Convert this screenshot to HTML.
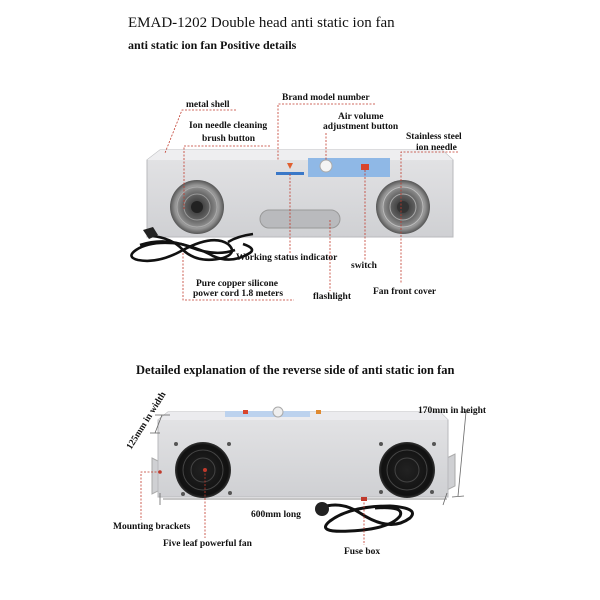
<!DOCTYPE html>
<html><head><meta charset="utf-8"><style>
html,body{margin:0;padding:0;background:#fff;}
svg{display:block;}
text{font-family:"Liberation Serif",serif;fill:#111;}
.l{font-size:9.5px;font-weight:bold;}
.d{stroke:#c0392b;stroke-width:0.8;stroke-dasharray:2,1.5;fill:none;}
</style></head><body>
<svg width="600" height="600" viewBox="0 0 600 600" xmlns="http://www.w3.org/2000/svg">
<defs>
<linearGradient id="body" x1="0" y1="0" x2="0" y2="1"><stop offset="0" stop-color="#e4e4e6"/><stop offset="1" stop-color="#cfd0d3"/></linearGradient>
<radialGradient id="fan" cx="0.5" cy="0.5" r="0.5"><stop offset="0" stop-color="#2a2a2a"/><stop offset="0.5" stop-color="#666"/><stop offset="0.8" stop-color="#999"/><stop offset="1" stop-color="#555"/></radialGradient>
<radialGradient id="fanb" cx="0.5" cy="0.5" r="0.5"><stop offset="0" stop-color="#222"/><stop offset="0.9" stop-color="#111"/><stop offset="1" stop-color="#333"/></radialGradient>
</defs>
<text x="128" y="27" style="font-size:15px;">EMAD-1202 Double head anti static ion fan</text>
<text x="128" y="49" style="font-size:12px;font-weight:bold;">anti static ion fan Positive details</text>

<!-- top device -->
<polygon points="160,150 442,150 453,160 453,237 147,237 147,160" fill="url(#body)" stroke="#b8b9bc"/>
<polygon points="160,150 442,150 453,160 147,160" fill="#eeeef0"/>
<circle cx="197" cy="207" r="27" fill="url(#fan)"/>
<circle cx="197" cy="207" r="20" fill="none" stroke="#aaa" stroke-width="1"/>
<circle cx="197" cy="207" r="13" fill="none" stroke="#999" stroke-width="1"/>
<circle cx="197" cy="207" r="6" fill="#222"/>
<circle cx="403" cy="207" r="27" fill="url(#fan)"/>
<circle cx="403" cy="207" r="20" fill="none" stroke="#bbb" stroke-width="1"/>
<circle cx="403" cy="207" r="13" fill="none" stroke="#aaa" stroke-width="1"/>
<circle cx="403" cy="207" r="6" fill="#333"/>
<rect x="260" y="210" width="80" height="18" rx="9" fill="#b9babd" stroke="#999"/>
<rect x="308" y="158" width="82" height="19" fill="#8fb8e6"/>
<circle cx="326" cy="166" r="6" fill="#f4f4f4" stroke="#aaa"/>
<rect x="361" y="164" width="8" height="6" fill="#d9452b"/>
<rect x="276" y="172" width="28" height="3" fill="#3a78c8"/>
<path d="M287 163 l6 0 l-3 6z" fill="#e06030"/>
<!-- cord -->
<g fill="none" stroke="#111" stroke-width="2.6">
<path d="M152 236 q20 2 31 14 q15 14 40 8 q15 -5 5 -14 q-15 -10 -45 6 q-25 14 -45 10 q-12 -3 -2 -10 q15 -10 45 -6 q20 5 32 12 q18 8 35 -2 q10 -5 -5 -10"/>
<path d="M140 245 q25 -8 50 2 q25 10 45 3 M228 242 q10 -6 25 -8"/>
</g>
<path d="M143 230 l10 -3 l5 8 l-9 4z" fill="#222"/>

<!-- top labels & lines -->
<text class="l" x="186" y="107">metal shell</text>
<path class="d" d="M236 110 L182 110 L165 153"/>
<text class="l" x="189" y="128">Ion needle cleaning</text>
<text class="l" x="202" y="141">brush button</text>
<path class="d" d="M270 146 L184 146 L184 210"/>
<text class="l" x="282" y="100">Brand model number</text>
<path class="d" d="M375 104 L278 104 L278 160"/>
<text class="l" x="338" y="119">Air volume</text>
<text class="l" x="323" y="129">adjustment button</text>
<path class="d" d="M326 133 L326 160"/>
<text class="l" x="406" y="139">Stainless steel</text>
<text class="l" x="416" y="150">ion needle</text>
<path class="d" d="M458 152 L401 152 L401 283"/>
<text class="l" x="236" y="260">Working status indicator</text>
<path class="d" d="M290 174 L290 253"/>
<text class="l" x="351" y="268">switch</text>
<path class="d" d="M365 170 L365 261"/>
<text class="l" x="313" y="299">flashlight</text>
<path class="d" d="M330 220 L330 291"/>
<text class="l" x="373" y="294">Fan front cover</text>
<text class="l" x="196" y="286">Pure copper silicone</text>
<text class="l" x="193" y="296">power cord 1.8 meters</text>
<path class="d" d="M183 253 L183 300 L294 300"/>

<!-- bottom -->
<text x="136" y="374" style="font-size:12.5px;font-weight:bold;">Detailed explanation of the reverse side of anti static ion fan</text>
<polygon points="152,458 160,462 160,490 152,494" fill="#cfd0d3" stroke="#aaa"/>
<polygon points="447,458 455,454 455,486 447,490" fill="#cfd0d3" stroke="#aaa"/>
<polygon points="168,412 440,412 448,420 448,497 158,497 158,420" fill="url(#body)" stroke="#b8b9bc"/>
<polygon points="168,412 440,412 448,420 158,420" fill="#ebebee"/>
<rect x="225" y="411" width="85" height="6" fill="#bcd2ee"/>
<circle cx="278" cy="412" r="5" fill="#eee" stroke="#aaa"/>
<rect x="243" y="410" width="5" height="4" fill="#d9452b"/>
<rect x="316" y="410" width="5" height="4" fill="#e08a30"/>
<circle cx="203" cy="470" r="28" fill="url(#fanb)"/>
<circle cx="203" cy="470" r="20" fill="none" stroke="#444"/>
<circle cx="203" cy="470" r="12" fill="none" stroke="#444"/>
<circle cx="407" cy="470" r="28" fill="url(#fanb)"/>
<circle cx="407" cy="470" r="20" fill="none" stroke="#444"/>
<circle cx="407" cy="470" r="12" fill="none" stroke="#444"/>
<g fill="#555"><circle cx="176" cy="444" r="2"/><circle cx="229" cy="444" r="2"/><circle cx="183" cy="494" r="2"/><circle cx="230" cy="493" r="2"/><circle cx="381" cy="444" r="2"/><circle cx="434" cy="444" r="2"/><circle cx="381" cy="492" r="2"/><circle cx="432" cy="492" r="2"/></g>
<path d="M320 508 q20 -8 40 5 q30 20 50 5 q10 -10 -20 -12 q-40 0 -60 15 q-15 12 20 10 q40 -2 50 -15 q5 -10 -25 -8" fill="none" stroke="#111" stroke-width="3"/>
<circle cx="322" cy="509" r="7" fill="#222"/>
<line x1="163" y1="499" x2="447" y2="499" stroke="#666" stroke-width="0.8"/>
<line x1="160" y1="493" x2="160" y2="505" stroke="#666" stroke-width="0.8"/>
<line x1="447" y1="493" x2="443" y2="505" stroke="#666" stroke-width="0.8"/>
<line x1="466" y1="412" x2="458" y2="496" stroke="#666" stroke-width="0.8"/>
<line x1="460" y1="412" x2="470" y2="412" stroke="#666" stroke-width="0.8"/>
<line x1="452" y1="497" x2="464" y2="496" stroke="#666" stroke-width="0.8"/>
<line x1="162" y1="415" x2="155" y2="433" stroke="#666" stroke-width="0.8"/>
<line x1="155" y1="415" x2="170" y2="415" stroke="#666" stroke-width="0.8"/>
<line x1="150" y1="433" x2="160" y2="433" stroke="#666" stroke-width="0.8"/>
<text class="l" transform="translate(131,450) rotate(-58)">125mm in width</text>
<text class="l" x="418" y="413">170mm in height</text>
<text class="l" x="251" y="517">600mm long</text>
<text class="l" x="113" y="529">Mounting brackets</text>
<path class="d" d="M160 472 L141 472 L141 520"/>
<circle cx="160" cy="472" r="1.8" fill="#c0392b"/>
<text class="l" x="163" y="546">Five leaf powerful fan</text>
<path class="d" d="M205 470 L205 538"/>
<circle cx="205" cy="470" r="2" fill="#c0392b"/>
<text class="l" x="344" y="554">Fuse box</text>
<path class="d" d="M364 499 L364 545"/>
<rect x="361" y="497" width="6" height="4" fill="#c0392b"/>
</svg>
</body></html>
